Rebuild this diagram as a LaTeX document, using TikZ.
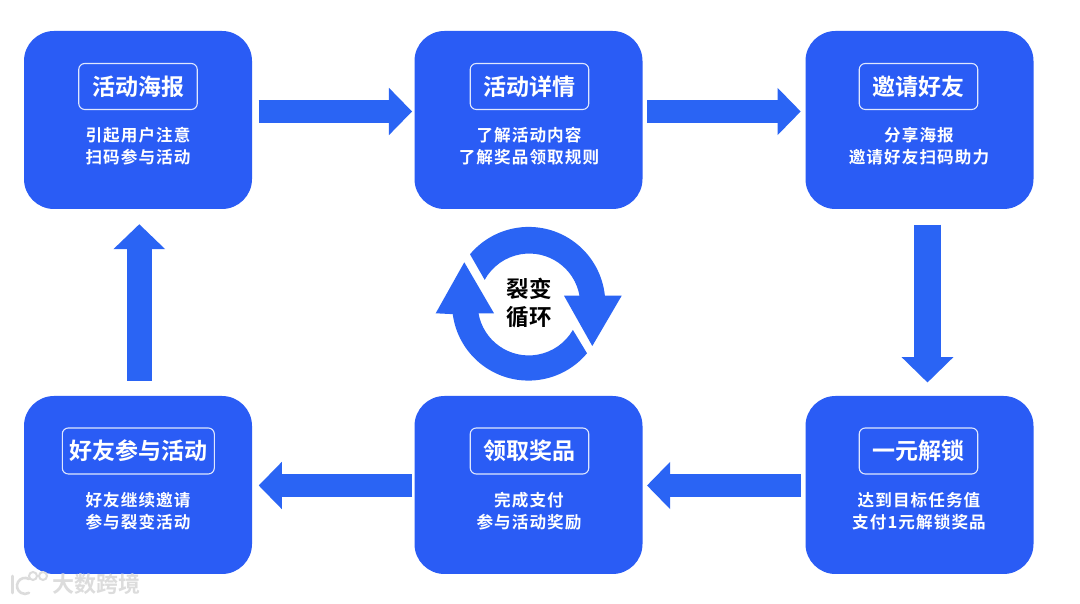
\documentclass[tikz,border=0pt]{standalone}
\usepackage{fontspec}
\usetikzlibrary{arrows.meta,calc}
\newfontfamily\cjk{Noto Sans CJK SC}[BoldFont={Noto Sans CJK SC Bold}]
\newfontfamily\cjksp{Noto Sans CJK SC}[BoldFont={Noto Sans CJK SC Bold},LetterSpace=6.5]
\definecolor{boxblue}{HTML}{2A5CF5}
\definecolor{arrowblue}{HTML}{2A64F4}
\definecolor{markgray}{HTML}{DCDCDC}
\tikzset{
  card/.style={fill=boxblue,draw=none,rounded corners=30pt,minimum width=228pt,minimum height=178pt,inner sep=0pt},
  titlebox/.style={draw=white!85!boxblue,line width=1.1pt,rounded corners=6pt,minimum height=46pt,inner sep=0pt,text=white,font=\cjk\bfseries\fontsize{23}{23}\selectfont},
  subtext/.style={text=white,align=center,inner sep=0pt,font=\cjksp\bfseries\fontsize{16.6}{22.2}\selectfont},
  blockright/.style={draw=arrowblue,line width=23.2pt,-{Triangle[length=23.2pt,width=46pt]},color=arrowblue},
  blockdown/.style={draw=arrowblue,line width=26.4pt,-{Triangle[length=25.4pt,width=50.4pt]},color=arrowblue},
  blockup/.style={draw=arrowblue,line width=25.4pt,-{Triangle[length=25pt,width=50.3pt]},color=arrowblue},
  ringfill/.style={fill=arrowblue,draw=none},
  centertext/.style={text=black,align=center,inner sep=0pt,font=\cjk\bfseries\fontsize{22.5}{28}\selectfont},
  marktext/.style={text=markgray,inner sep=0pt,font=\cjk\bfseries\fontsize{22}{22}\selectfont},
  markline/.style={draw=markgray,line width=2.6pt,line cap=round}
}
\begin{document}
\begin{tikzpicture}[x=1pt,y=1pt]
\useasboundingbox (0,0) rectangle (1080,604);
\fill[white] (0,0) rectangle (1080,604);
% cards
\node[card] (c1) at (138,484) {};
\node[card] (c2) at (528.5,484) {};
\node[card] (c3) at (919.5,484) {};
\node[card] (c4) at (919.5,119) {};
\node[card] (c5) at (528.5,119) {};
\node[card] (c6) at (138,119) {};
% titles
\node[titlebox,minimum width=118.5pt] (t1) at (138,517.5) {活动海报};
\node[titlebox,minimum width=118.5pt] (t2) at (529.5,517.5) {活动详情};
\node[titlebox,minimum width=118.5pt] (t3) at (918.5,517.5) {邀请好友};
\node[titlebox,minimum width=118.5pt] (t4) at (918.5,153) {一元解锁};
\node[titlebox,minimum width=118.5pt] (t5) at (529.5,153) {领取奖品};
\node[titlebox,minimum width=152pt] (t6) at (138.3,153) {好友参与活动};
% sub texts
\node[subtext] (s1) at (138,458) {引起用户注意\\扫码参与活动};
\node[subtext] (s2) at (529,458) {了解活动内容\\了解奖品领取规则};
\node[subtext] (s3) at (919,458) {分享海报\\邀请好友扫码助力};
\node[subtext] (s4) at (919,93) {达到目标任务值\\支付1元解锁奖品};
\node[subtext] (s5) at (529,93) {完成支付\\参与活动奖励};
\node[subtext] (s6) at (138,93) {好友继续邀请\\参与裂变活动};
% connectors
\draw[blockright] ($(c1.east)+(6.5,8.5)$) -- ($(c2.west)+(-2.2,8.5)$);
\draw[blockright] ($(c2.east)+(4.3,8.5)$) -- ($(c3.west)+(-4.6,8.5)$);
\draw[blockdown] ($(c3.south)+(8,-15.5)$) -- ($(c4.north)+(8,13.3)$);
\draw[blockright] ($(c4.west)+(-4.6,-0.5)$) -- ($(c5.east)+(4.3,-0.5)$);
\draw[blockright] ($(c5.west)+(-2.2,-0.5)$) -- ($(c6.east)+(6.5,-0.5)$);
\draw[blockup] ($(c6.north)+(1.3,15)$) -- ($(c1.south)+(1.3,-15)$);
% cycle
\coordinate (o) at (529,300.5);
\path[ringfill]
  (470,349.7) arc[start angle=140,end angle=6,radius=76.6]
  -- (621.7,308.3) -- (592.3,258) -- (564,308.3) -- (579.5,308.3)
  arc[start angle=10,end angle=151,radius=51] -- cycle;
\path[ringfill]
  (587,250.7) arc[start angle=-40,end angle=-172.5,radius=76.4]
  -- (435.7,290.7) -- (464.3,341.7) -- (494,290.7) -- (478.5,290.7)
  arc[start angle=-170,end angle=-30,radius=51] -- cycle;
\node[centertext] (ct) at (o) {裂变\\循环};
% watermark
\node[marktext,anchor=west] (wm) at (52,20) {大数跨境};
\coordinate (m1) at (12.5,28);
\coordinate (m2) at (12.5,11);
\draw[markline] (m1) -- (m2);
\draw[markline] (29,25) arc[start angle=60,end angle=300,radius=8];
\draw[markgray,line width=2pt] (33,28) circle[radius=4];
\draw[markgray,line width=2pt] (43,28) circle[radius=4];
\end{tikzpicture}
\end{document}
